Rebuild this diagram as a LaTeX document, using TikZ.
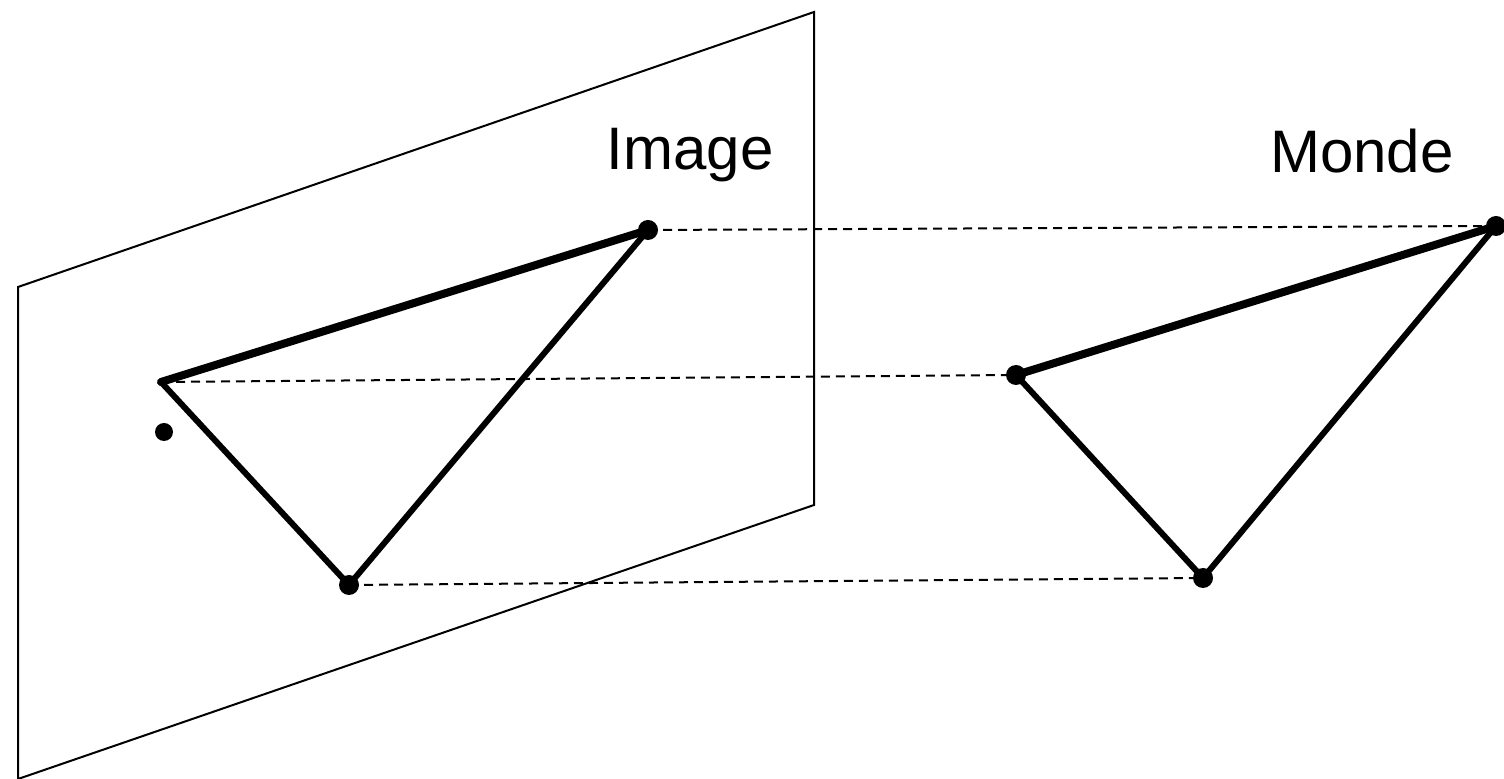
\documentclass[tikz,border=0pt]{standalone}
\usepackage{fontspec}
\setmainfont{Liberation Sans}
\begin{document}
\begin{tikzpicture}[x=0.5pt,y=-0.5pt,
  plane/.style={draw=black,line width=1pt,line join=miter},
  dotnode/.style={circle,fill=black,inner sep=0pt,minimum size=10pt},
  thickedge/.style={line width=4pt,line cap=round},
  edge/.style={line width=3pt,line cap=round},
  proj/.style={line width=1pt,dash pattern=on 4.5pt off 3pt},
  lab/.style={font=\fontsize{30}{36}\selectfont,anchor=base,inner sep=0pt}]
\useasboundingbox (0,0) rectangle (1504,779);
% image plane
\coordinate (p1) at (18,287);
\coordinate (p2) at (814,12);
\coordinate (p3) at (814,505);
\coordinate (p4) at (18,779);
\draw[plane] (p1) -- (p2) -- (p3) -- (p4) -- cycle;
% labels
\node[lab] (limg) at (690,170) {Image};
\node[lab] (lmon) at (1362,173) {Monde};
% image triangle
\node[dotnode] (i1) at (648,230) {};
\coordinate (i2) at (161,382);
\node[dotnode] (i3) at (349,585) {};
\node[dotnode,minimum size=9pt] (stray) at (164,432) {};
% world triangle
\node[dotnode] (w1) at (1496,226) {};
\node[dotnode] (w2) at (1016,375) {};
\node[dotnode] (w3) at (1203,578) {};
% projections
\draw[proj] (i1.center) -- (w1.center);
\draw[proj] (i2) -- (w2.center);
\draw[proj] (i3.center) -- (w3.center);
% edges
\draw[thickedge] (i1.center) -- (i2);
\draw[edge] (i2) -- (i3.center) -- (i1.center);
\draw[thickedge] (w1.center) -- (w2.center);
\draw[edge] (w2.center) -- (w3.center) -- (w1.center);
\end{tikzpicture}
\end{document}
